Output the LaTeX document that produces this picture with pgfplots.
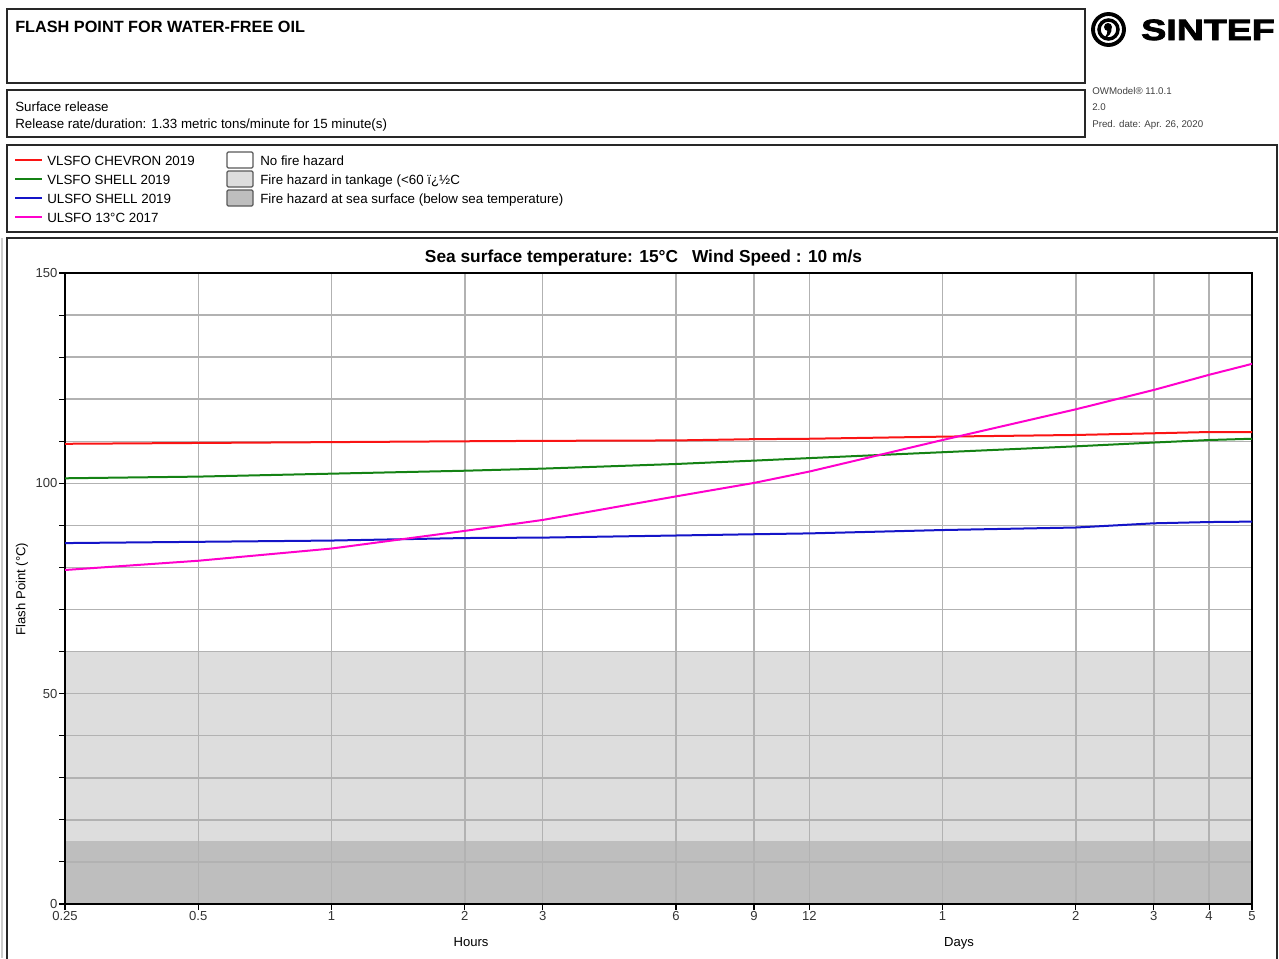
\documentclass[border=0pt]{standalone}
\usepackage{graphicx}
\usepackage{pgfplots}
\pgfplotsset{compat=1.18}
\usepackage{fontspec}
\setmainfont{Liberation Sans}
\newfontfamily\logofont{Liberation Sans Bold}[FakeBold=2.5]
\definecolor{cred}{RGB}{250,20,20}
\definecolor{cgreen}{RGB}{20,130,20}
\definecolor{cblue}{RGB}{20,20,200}
\definecolor{cmag}{RGB}{255,0,204}
\definecolor{lightband}{RGB}{221,221,221}
\definecolor{darkband}{RGB}{190,190,190}
\definecolor{gridc}{RGB}{178,178,178}
\definecolor{framec}{RGB}{40,40,40}
\newcommand{\lf}{\fontsize{10}{11}\selectfont}
\newcommand{\tf}{\fontsize{9.8}{11}\selectfont}
\begin{document}
\begin{tikzpicture}
\begin{axis}[
  at={(65*0.75pt,-904*0.75pt)}, anchor=south west,
  scale only axis, width=1187*0.75pt, height=631*0.75pt,
  xmode=log, xmin=0.25, xmax=120, ymin=0, ymax=150,
  xtick={0.25,0.5,1,2,3,6,9,12,24,48,72,96,120},
  xticklabels={0.25,0.5,1,2,3,6,9,12,1,2,3,4,5},
  minor xtick={},
  ytick={0,50,100,150},
  minor ytick={10,20,30,40,60,70,80,90,110,120,130,140},
  grid=both,
  major grid style={gridc, line width=1.1pt},
  minor grid style={gridc, line width=1.1pt},
  tick align=outside,
  major tick length=4.5pt, minor tick length=4.5pt,
  xtick pos=left, ytick pos=left,
  tick style={black, line width=0.8pt},
  axis line style={black, line width=1.8pt},
  ticklabel style={font=\tf, text=black!80},
  yticklabel style={inner sep=1pt},
  xticklabel style={inner sep=1pt},
  /pgf/number format/assume math mode=true,
  set layers,
]
\addplot[draw=none, fill=lightband, on layer=axis background] coordinates {(0.25,0) (0.25,60) (120,60) (120,0)};
\addplot[draw=none, fill=darkband, on layer=axis background] coordinates {(0.25,0) (0.25,15) (120,15) (120,0)};
\addplot[cred, line width=1.5pt] coordinates {
(0.25,109.4) (0.5,109.6) (1,109.8) (2,110.0) (3,110.1) (6,110.2) (9,110.5) (12,110.6) (24,111.1) (48,111.5) (72,111.9) (96,112.2) (120,112.2)};
\addplot[cgreen, line width=1.5pt] coordinates {
(0.25,101.2) (0.5,101.6) (1,102.3) (2,103.0) (3,103.5) (6,104.6) (9,105.4) (12,106.0) (24,107.4) (48,108.8) (72,109.7) (96,110.3) (120,110.6)};
\addplot[cblue, line width=1.5pt] coordinates {
(0.25,85.8) (0.5,86.1) (1,86.4) (2,87.0) (3,87.1) (6,87.6) (9,87.9) (12,88.1) (24,88.9) (48,89.5) (72,90.5) (96,90.8) (120,90.9)};
\addplot[cmag, line width=1.5pt] coordinates {
(0.25,79.4) (0.5,81.6) (1,84.5) (2,88.7) (3,91.3) (6,96.9) (9,100.1) (12,102.8) (24,110.3) (48,117.6) (72,122.2) (96,125.8) (120,128.4)};
\end{axis}
\begin{scope}[x=0.75pt, y=-0.75pt]
% frames
\draw[framec, line width=1.6pt] (7,9) rectangle (1085,83);
\draw[framec, line width=1.6pt] (7,90) rectangle (1085,137);
\draw[framec, line width=1.6pt] (7,145) rectangle (1277,232);
\draw[framec, line width=1.6pt] (7,238) rectangle (1277,1010);
\draw[black!20, line width=0.8pt] (2,238) -- (2,958);
% title texts
\node[anchor=base west, inner sep=0pt, font=\fontsize{12.2}{13}\selectfont\bfseries] at (15,32) {FLASH POINT FOR WATER-FREE OIL};
\node[anchor=base west, inner sep=0pt, font=\lf] at (15,111) {Surface release};
\node[anchor=base west, inner sep=0pt, font=\lf] at (15,128) {Release rate/duration: 1.33 metric tons/minute for 15 minute(s)};
% right info
\node[anchor=base west, inner sep=0pt, font=\fontsize{7.3}{8}\selectfont, text=black!75] at (1092,94.5) {OWModel® 11.0.1};
\node[anchor=base west, inner sep=0pt, font=\fontsize{7.3}{8}\selectfont, text=black!75] at (1092,110.5) {2.0};
\node[anchor=base west, inner sep=0pt, font=\fontsize{7.3}{8}\selectfont, text=black!75] at (1092,127.5) {Pred. date: Apr. 26, 2020};
% logo
\draw[black, line width=2.9pt] (1108.5,29.5) circle (15.5);
\draw[black, line width=2.6pt] (1108.5,29.5) circle (9.5);
\fill[black] (1108,27) circle (4);
\fill[black] (1111.5,27.5) .. controls (1112,33) and (1109,37) .. (1104,38) .. controls (1107,35) and (1108,32) .. (1107.5,29) -- cycle;
\node[anchor=base west, inner sep=0pt, font=\logofont\fontsize{22}{24}\selectfont] at (1141,40) {\scalebox{1.28}[1]{SINTEF}};
% legend
\draw[cred, line width=1.5pt] (15,160) -- (42,160);
\draw[cgreen, line width=1.5pt] (15,179) -- (42,179);
\draw[cblue, line width=1.5pt] (15,198) -- (42,198);
\draw[cmag, line width=1.5pt] (15,217) -- (42,217);
\node[anchor=base west, inner sep=0pt, font=\lf] at (47,165) {VLSFO CHEVRON 2019};
\node[anchor=base west, inner sep=0pt, font=\lf] at (47,184) {VLSFO SHELL 2019};
\node[anchor=base west, inner sep=0pt, font=\lf] at (47,203) {ULSFO SHELL 2019};
\node[anchor=base west, inner sep=0pt, font=\lf] at (47,222) {ULSFO 13°C 2017};
\draw[black!65, fill=white, line width=0.9pt, rounded corners=1pt] (227,152) rectangle (253,168);
\draw[black!65, fill=lightband, line width=0.9pt, rounded corners=1pt] (227,171) rectangle (253,187);
\draw[black!65, fill=darkband, line width=0.9pt, rounded corners=1pt] (227,190) rectangle (253,206);
\node[anchor=base west, inner sep=0pt, font=\lf] at (260,165) {No fire hazard};
\node[anchor=base west, inner sep=0pt, font=\lf] at (260,184) {Fire hazard in tankage (<60 ï¿½C};
\node[anchor=base west, inner sep=0pt, font=\lf] at (260,203) {Fire hazard at sea surface (below sea temperature)};
% chart texts
\node[anchor=base, inner sep=0pt, font=\fontsize{13}{14}\selectfont\bfseries] at (643.5,262) {Sea surface temperature: 15°C\hspace{0.8em}Wind Speed : 10 m/s};
\node[anchor=base, inner sep=0pt, font=\tf] at (471,946) {Hours};
\node[anchor=base, inner sep=0pt, font=\tf] at (959,946) {Days};
\node[anchor=center, inner sep=0pt, rotate=90, font=\tf] at (22,589) {Flash Point (°C)};
\pgfresetboundingbox
\path[use as bounding box] (0,0) rectangle (1279,958);
\end{scope}
\end{tikzpicture}
\end{document}
